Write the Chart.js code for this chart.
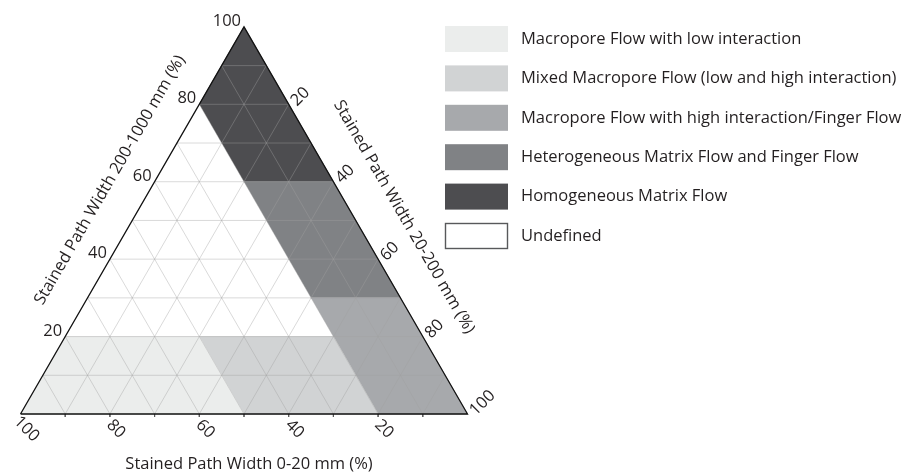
<!DOCTYPE html>
<html>
<head>
<meta charset="utf-8">
<title>Flow type classification</title>
<script src="https://cdn.jsdelivr.net/npm/chart.js@4.4.1/dist/chart.umd.min.js"></script>
<style>
  html, body { margin: 0; padding: 0; background: #fff; }
  canvas { display: block; }
</style>
</head>
<body>
<canvas id="ternaryChart" width="912" height="473"></canvas>
<script>
/*
  Ternary flow-type diagram.
  Every corner is written as [0-20 mm, 20-200 mm, 200-1000 mm] in %.
*/
const lowInteraction  = [[100, 0, 0], [50, 50, 0], [50, 30, 20], [80, 0, 20]];
const mixedMacropore  = [[50, 50, 0], [20, 80, 0], [20, 60, 20], [50, 30, 20]];
const highInteraction = [[20, 80, 0], [0, 100, 0], [0, 70, 30], [20, 50, 30]];
const heterogeneous   = [[20, 50, 30], [0, 70, 30], [0, 40, 60], [20, 20, 60]];
const homogeneous     = [[20, 20, 60], [0, 40, 60], [0, 0, 100], [20, 0, 80]];
const outline         = [[100, 0, 0], [0, 100, 0], [0, 0, 100], [100, 0, 0]];

const regions = [lowInteraction, mixedMacropore, highInteraction, heterogeneous, homogeneous];

const regionNames = [
  "Macropore Flow with low interaction",
  "Mixed Macropore Flow (low and high interaction)",
  "Macropore Flow with high interaction/Finger Flow",
  "Heterogeneous Matrix Flow and Finger Flow",
  "Homogeneous Matrix Flow",
  "Undefined"
];
const regionColors = ["#ebedec", "#d1d3d4", "#a7a9ac", "#808285", "#4d4d50", "#ffffff"];

const gridSteps  = [10, 20, 30, 40, 50, 60, 70, 80, 90];
const tickLabels = [20, 40, 60, 80, 100];

const bottomTitle = "Stained Path Width 0-20 mm (%)";
const leftTitle   = "Stained Path Width 200-1000 mm (%)";
const rightTitle  = "Stained Path Width 20-200 mm (%)";

const TEXT = "#231f20";
const FONT = '"Open Sans", "Noto Sans", sans-serif';
const PX_PER_UNIT = 4.47; // triangle side of 100 units = 447 px

// [a, b, c] -> plane coords, a=100 at bottom left, b=100 bottom right, c=100 top
function toXY(t) {
  return { x: t[1] + t[2] / 2, y: t[2] * Math.sqrt(3) / 2 };
}

function segment(points, color, width, order) {
  return {
    data: points.map(toXY),
    showLine: true,
    borderColor: color,
    borderWidth: width,
    pointRadius: 0,
    fill: false,
    order: order
  };
}

const datasets = [];

regions.forEach((poly, i) => {
  datasets.push({
    data: poly.map(toXY),
    showLine: true,
    fill: "shape",
    backgroundColor: regionColors[i],
    borderColor: regionColors[i],
    borderWidth: 0.6,
    pointRadius: 0,
    order: 3
  });
});

// grid every 10 %
gridSteps.forEach(s => {
  const gridColor = "rgba(160,160,160,0.4)";
  datasets.push(segment([[100 - s, 0, s], [0, 100 - s, s]], gridColor, 1, 2));
  datasets.push(segment([[s, 100 - s, 0], [s, 0, 100 - s]], gridColor, 1, 2));
  datasets.push(segment([[100 - s, s, 0], [0, s, 100 - s]], gridColor, 1, 2));
});

// little ticks under the bottom edge
gridSteps.forEach(s => {
  const p = toXY([s, 100 - s, 0]);
  datasets.push({
    data: [p, { x: p.x, y: p.y - 3 / PX_PER_UNIT }],
    showLine: true,
    borderColor: "#555",
    borderWidth: 0.8,
    pointRadius: 0,
    order: 1
  });
});

datasets.push(segment(outline, "#111", 1.3, 0));

// label plugin: tick numbers, axis titles and the legend
const ternaryText = {
  id: "ternaryText",
  afterDraw(chart) {
    const { ctx, scales: { x, y } } = chart;
    const pix = t => {
      const p = toXY(t);
      return { px: x.getPixelForValue(p.x), py: y.getPixelForValue(p.y) };
    };
    ctx.save();
    ctx.fillStyle = TEXT;

    // left axis: 200-1000 mm
    ctx.font = "16.5px " + FONT;
    ctx.textAlign = "right";
    ctx.textBaseline = "alphabetic";
    tickLabels.forEach(v => {
      const p = pix([100 - v, 0, v]);
      ctx.fillText(String(v), p.px - 3, p.py - 1);
    });

    // bottom axis: 0-20 mm
    tickLabels.forEach(v => {
      const p = pix([v, 100 - v, 0]);
      ctx.save();
      ctx.translate(p.px + 6, p.py + 15);
      ctx.rotate(Math.PI / 4);
      ctx.textAlign = "center";
      ctx.textBaseline = "middle";
      ctx.fillText(String(v), 0, 0);
      ctx.restore();
    });

    // right axis: 20-200 mm
    tickLabels.forEach(v => {
      const p = pix([0, v, 100 - v]);
      ctx.save();
      ctx.translate(p.px + 5, p.py - 1);
      ctx.rotate(-Math.PI / 4);
      ctx.textAlign = "left";
      ctx.textBaseline = "middle";
      ctx.fillText(String(v), 0, 0);
      ctx.restore();
    });

    // axis titles
    ctx.font = "16.5px " + FONT;
    ctx.textAlign = "center";
    ctx.textBaseline = "middle";
    ctx.fillText(bottomTitle, 249, 464);

    ctx.save();
    ctx.translate(110, 180);
    ctx.rotate(-Math.PI / 3);
    ctx.fillText(leftTitle, 0, 0);
    ctx.restore();

    ctx.save();
    ctx.translate(404, 217);
    ctx.rotate(Math.PI / 3);
    ctx.fillText(rightTitle, 0, 0);
    ctx.restore();

    // legend
    ctx.textAlign = "left";
    regionNames.forEach((name, i) => {
      const top = 26 + i * 39.4;
      ctx.fillStyle = regionColors[i];
      ctx.fillRect(445, top, 63, 26);
      if (i === regionNames.length - 1) {
        ctx.strokeStyle = "#58595b";
        ctx.lineWidth = 1.4;
        ctx.strokeRect(445.5, top + 0.5, 62, 25);
      }
      ctx.fillStyle = TEXT;
      ctx.fillText(name, 521, top + 13);
    });

    ctx.restore();
  }
};

new Chart(document.getElementById("ternaryChart"), {
  type: "scatter",
  data: { datasets: datasets },
  options: {
    responsive: false,
    animation: false,
    layout: { padding: 0 },
    plugins: {
      legend: { display: false },
      tooltip: { enabled: false }
    },
    scales: {
      x: { type: "linear", display: false, min: -20.5 / PX_PER_UNIT, max: (912 - 20.5) / PX_PER_UNIT },
      y: { type: "linear", display: false, min: -(473 - 414) / PX_PER_UNIT, max: 414 / PX_PER_UNIT }
    }
  },
  plugins: [ternaryText]
});
</script>
</body>
</html>
